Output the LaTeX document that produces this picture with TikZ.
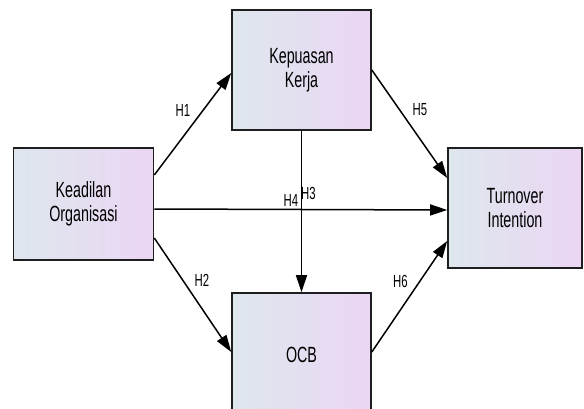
\documentclass[tikz,border=0pt]{standalone}
\usepackage{fontspec}
\setmainfont{Liberation Sans}[FakeStretch=0.65]
\usetikzlibrary{arrows.meta}
\definecolor{boxleft}{RGB}{222,231,237}
\definecolor{boxright}{RGB}{235,214,244}
\definecolor{edge}{RGB}{30,30,30}
\tikzset{
  varbox/.style={draw=edge, line width=1.6pt, left color=boxleft, right color=boxright,
    align=center, font=\fontsize{22}{24}\selectfont, inner sep=0pt},
  link/.style={line width=1.5pt, -{Triangle[length=17pt,width=11pt]}},
  hlabel/.style={font=\fontsize{17.5}{19}\selectfont, inner sep=0pt}
}
\begin{document}
\begin{tikzpicture}[x=1pt,y=-1pt]
\useasboundingbox (0,0) rectangle (584,409);
\begin{scope}
\clip (0,0) rectangle (584,409);
\node[varbox, minimum width=140pt, minimum height=112pt] (kd) at (83.5,204) {Keadilan\\Organisasi};
\node[varbox, minimum width=139pt, minimum height=120pt] (kp) at (301.5,70) {Kepuasan\\Kerja};
\node[varbox, minimum width=139pt, minimum height=124pt] (ocb) at (301.5,355) {OCB};
\node[varbox, minimum width=134pt, minimum height=120pt] (to) at (515,208) {Turnover\\Intention};
\end{scope}
\draw[link] ([yshift=29pt]kd.east) -- ([yshift=-3pt]kp.west);
\draw[link] ([yshift=-34pt]kd.east) -- ([yshift=3pt]ocb.west);
\draw[link] ([yshift=-5pt]kd.east) -- ([yshift=-2pt]to.west);
\draw[link] (kp.south) -- (ocb.north);
\draw[link] ([yshift=0pt]kp.east) -- ([yshift=30pt]to.west);
\draw[link] ([yshift=3pt]ocb.east) -- ([yshift=-33pt]to.west);
\node[hlabel] (h1) at (183,110) {H1};
\node[hlabel] (h2) at (202,280) {H2};
\node[hlabel] (h3) at (308.5,193) {H3};
\node[hlabel] (h4) at (291,200) {H4};
\node[hlabel] (h5) at (420,110) {H5};
\node[hlabel] (h6) at (400.5,281) {H6};
\end{tikzpicture}
\end{document}
